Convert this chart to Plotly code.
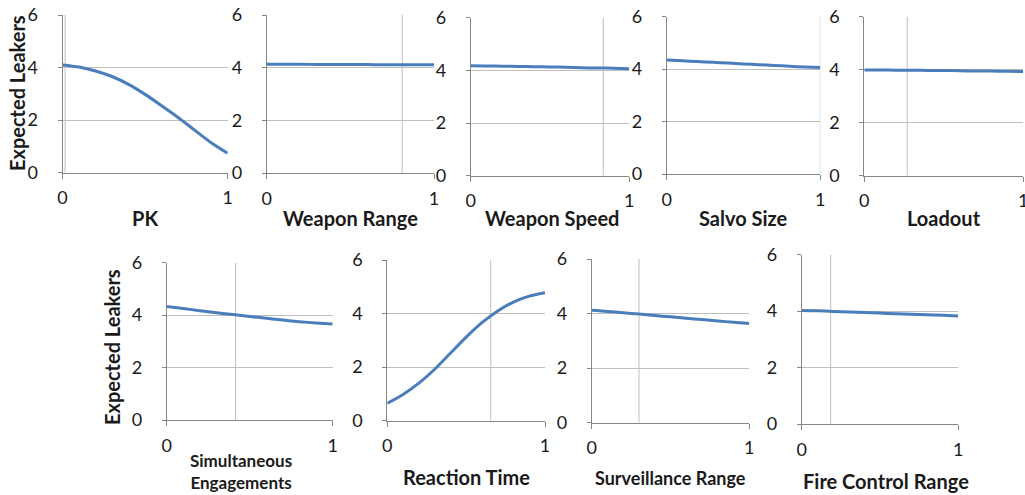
import plotly.graph_objects as go

# ---------------- data ----------------
x_vals = [0.0, 0.1, 0.2, 0.3, 0.4, 0.5, 0.6, 0.7, 0.8, 0.9, 1.0]

pk = [4.10, 4.02, 3.87, 3.66, 3.36, 2.98, 2.55, 2.10, 1.62, 1.14, 0.74]
weapon_range = [4.13, 4.13, 4.13, 4.12, 4.12, 4.12, 4.12, 4.11, 4.11, 4.11, 4.11]
weapon_speed = [4.18, 4.17, 4.16, 4.15, 4.14, 4.13, 4.12, 4.10, 4.09, 4.08, 4.06]
salvo_size = [4.35, 4.32, 4.29, 4.26, 4.23, 4.20, 4.17, 4.14, 4.11, 4.08, 4.06]
loadout = [3.99, 3.99, 3.98, 3.98, 3.97, 3.97, 3.96, 3.95, 3.95, 3.94, 3.93]
simultaneous = [4.33, 4.25, 4.17, 4.09, 4.02, 3.95, 3.88, 3.81, 3.75, 3.70, 3.66]
reaction_time = [0.65, 0.98, 1.40, 1.92, 2.52, 3.12, 3.66, 4.10, 4.43, 4.65, 4.78]
surveillance = [4.12, 4.08, 4.03, 3.98, 3.93, 3.88, 3.83, 3.78, 3.73, 3.68, 3.64]
fire_control = [4.02, 4.01, 3.99, 3.97, 3.95, 3.93, 3.91, 3.89, 3.87, 3.85, 3.83]

series = [pk, weapon_range, weapon_speed, salvo_size, loadout,
          simultaneous, reaction_time, surveillance, fire_control]

titles = ["PK", "Weapon Range", "Weapon Speed", "Salvo Size", "Loadout",
          "Simultaneous<br>Engagements", "Reaction Time", "Surveillance Range",
          "Fire Control Range"]

# baseline (vertical reference) value for each parameter
baseline_x = [0.016, 0.81, 0.836, 1.0, 0.27, 0.415, 0.656, 0.30, 0.185]

y_ticks = [0, 2, 4, 6]
x_ticks = [0, 1]
y_title = "Expected Leakers"

# ---------------- layout geometry (pixels) ----------------
W, H = 1025, 495
# (left, right, top, bottom) pixel boxes of each plot area
boxes = [
    (62.5, 227.7, 15.0, 172.7),
    (266.7, 434.0, 15.0, 173.0),
    (470.7, 629.3, 17.7, 175.7),
    (666.7, 820.3, 16.7, 174.0),
    (864.3, 1023.3, 16.7, 175.7),
    (166.7, 332.7, 262.7, 420.0),
    (387.3, 545.0, 260.0, 420.7),
    (591.7, 749.3, 259.0, 422.7),
    (801.7, 958.3, 254.7, 424.0),
]
# title centre (x px, y px) and font size
title_pos = [
    (145, 218, 20), (350, 218, 20), (552, 218, 20), (743, 218, 20), (944, 218, 20),
    (241, 471, 17), (466, 477, 20), (670, 478, 18), (886, 481, 20),
]

LINE_COLOR = "#4a7ebb"
AXIS_COLOR = "#868686"
GRID_COLOR = "#bfbfbf"
FONT = "Lato, 'Open Sans', sans-serif"

fig = go.Figure()
layout = dict(
    template="none",
    width=W, height=H,
    margin=dict(l=0, r=0, t=0, b=0, pad=0),
    paper_bgcolor="white", plot_bgcolor="white",
    showlegend=False,
    font=dict(family=FONT, size=18, color="#1a1a1a"),
)
shapes = []
annotations = []

for i, (vals, box) in enumerate(zip(series, boxes), start=1):
    l, r, t, b = box
    xa = "xaxis" if i == 1 else f"xaxis{i}"
    ya = "yaxis" if i == 1 else f"yaxis{i}"
    xr = "x" if i == 1 else f"x{i}"
    yr = "y" if i == 1 else f"y{i}"
    layout[xa] = dict(
        domain=[l / W, r / W], anchor=yr, range=[0, 1],
        tickvals=x_ticks, ticktext=[str(v) for v in x_ticks],
        showgrid=False, zeroline=False, showline=True, linecolor=AXIS_COLOR, linewidth=1,
        ticks="outside", ticklen=5, tickcolor=AXIS_COLOR, tickwidth=1, ticklabelstandoff=4,
        ticklabeloverflow="allow",
        automargin=False, fixedrange=True,
    )
    layout[ya] = dict(
        domain=[1 - b / H, 1 - t / H], anchor=xr, range=[0, 6],
        tickvals=y_ticks, ticktext=[str(v) for v in y_ticks],
        showgrid=True, gridcolor=GRID_COLOR, gridwidth=1,
        zeroline=False, showline=True, linecolor=AXIS_COLOR, linewidth=1,
        ticks="outside", ticklen=4, tickcolor=AXIS_COLOR, tickwidth=1, ticklabelstandoff=16,
        automargin=False, fixedrange=True,
    )
    shapes.append(dict(type="line", xref=xr, yref=yr,
                       x0=baseline_x[i - 1], x1=baseline_x[i - 1], y0=0, y1=6,
                       line=dict(color=GRID_COLOR, width=1), layer="below"))
    fig.add_trace(go.Scatter(
        x=x_vals, y=vals, mode="lines", xaxis=xr, yaxis=yr,
        line=dict(color=LINE_COLOR, width=3, shape="spline", smoothing=0.8),
        cliponaxis=False, hoverinfo="skip",
    ))
    tx, ty, ts = title_pos[i - 1]
    annotations.append(dict(
        text=f"<b>{titles[i - 1]}</b>", xref="paper", yref="paper",
        x=tx / W, y=1 - ty / H, xanchor="center", yanchor="middle",
        showarrow=False, font=dict(family=FONT, size=ts, color="#1a1a1a"),
        align="center",
    ))

# y-axis titles for first panel of each row
for (cx, cy) in [(17, 93), (112, 347)]:
    annotations.append(dict(
        text=f"<b>{y_title}</b>", xref="paper", yref="paper",
        x=cx / W, y=1 - cy / H, xanchor="center", yanchor="middle",
        textangle=-90, showarrow=False,
        font=dict(family=FONT, size=20, color="#1a1a1a"),
    ))

layout["shapes"] = shapes
layout["annotations"] = annotations
fig.update_layout(**layout)
# remove the page's default body margin so the figure sits at the window's top-left
fig.write_html(
    "out.html",
    config={"displayModeBar": False},
    post_script="document.body.style.margin='0';document.body.style.overflow='hidden';",
)
